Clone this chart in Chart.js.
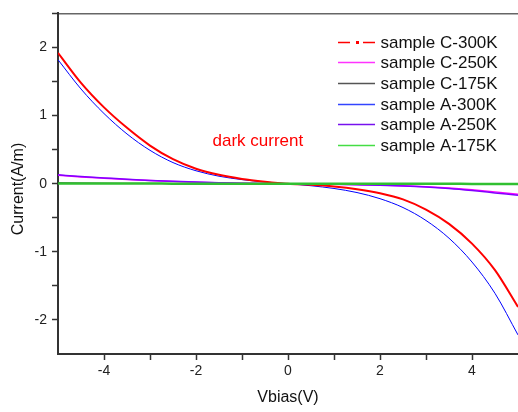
<!DOCTYPE html>
<html>
<head>
<meta charset="utf-8">
<script src="https://cdn.jsdelivr.net/npm/chart.js@4.4.1/dist/chart.umd.min.js"></script>
<style>
	html, body { margin: 0; padding: 0; background: #fff; }
	canvas { display: block; }
</style>
</head>
<body>
<canvas id="myChart" width="518" height="412"></canvas>
<script>
"use strict";

// bias voltage (V)
const vbias = [-5, -4.5, -4, -3.5, -3, -2.5, -2, -1.5, -1, -0.5, 0, 0.5, 1, 1.5, 2, 2.5, 3, 3.5, 4, 4.5, 5];

// dark current (A/m)
const sampleC300K = [1.92, 1.48, 1.12, 0.82, 0.56, 0.36, 0.22, 0.13, 0.07, 0.03, 0, -0.015, -0.04, -0.08, -0.14, -0.23, -0.38, -0.59, -0.88, -1.27, -1.81];
const sampleC250K = [0.125, 0.1, 0.08, 0.062, 0.046, 0.033, 0.022, 0.014, 0.007, 0.003, 0, -0.003, -0.007, -0.013, -0.02, -0.03, -0.044, -0.064, -0.09, -0.12, -0.155];
const sampleC175K = [0.012, 0.009, 0.007, 0.005, 0.004, 0.003, 0.002, 0.001, 0.001, 0, 0, 0, -0.001, -0.001, -0.002, -0.003, -0.004, -0.005, -0.007, -0.009, -0.012];
const sampleA300K = [1.82, 1.39, 1.03, 0.73, 0.49, 0.31, 0.19, 0.11, 0.06, 0.025, 0, -0.03, -0.07, -0.13, -0.22, -0.35, -0.54, -0.80, -1.15, -1.61, -2.22];
const sampleA250K = [0.13, 0.105, 0.085, 0.065, 0.048, 0.035, 0.024, 0.015, 0.008, 0.003, 0, -0.003, -0.008, -0.014, -0.022, -0.033, -0.048, -0.07, -0.10, -0.135, -0.17];
const sampleA175K = [0.004, 0.003, 0.003, 0.002, 0.002, 0.001, 0.001, 0.001, 0, 0, 0, 0, 0, -0.001, -0.001, -0.001, -0.002, -0.002, -0.003, -0.003, -0.004];

const seriesNames = ['sample C-300K', 'sample C-250K', 'sample C-175K', 'sample A-300K', 'sample A-250K', 'sample A-175K'];
const xTickLabels = [-4, -2, 0, 2, 4];
const yTickLabels = [-2, -1, 0, 1, 2];

const FONT = 'Arial, "Liberation Sans", sans-serif';

function pts(arr) {
	return vbias.map((v, i) => ({ x: v, y: arr[i] }));
}

const lineColors = ['#ff0000', '#ff00ff', '#000000', '#0000ff', '#8000ff', '#30c030'];
const legendColors = ['#ff0000', '#ff33ff', '#555555', '#3344ff', '#7711ee', '#44dd44'];
const lineWidths = [2, 1.5, 1, 1, 1.5, 2.5];
const drawOrder = [1, 3, 5, 4, 2, 0];
const allSeries = [sampleC300K, sampleC250K, sampleC175K, sampleA300K, sampleA250K, sampleA175K];

const datasets = allSeries.map((s, i) => ({
	label: seriesNames[i],
	data: pts(s),
	borderColor: lineColors[i],
	borderWidth: lineWidths[i],
	pointRadius: 0,
	cubicInterpolationMode: 'monotone',
	fill: false,
	order: drawOrder[i]
}));

// legend, annotation and y title drawn on top
const extrasPlugin = {
	id: 'extras',
	afterDraw(chart) {
		const ctx = chart.ctx;
		ctx.save();

		ctx.font = '17px ' + FONT;
		ctx.textBaseline = 'middle';
		ctx.textAlign = 'left';
		seriesNames.forEach((name, i) => {
			const y = Math.round(41.7 + i * 20.67) + 0.5;
			ctx.strokeStyle = legendColors[i];
			ctx.fillStyle = legendColors[i];
			ctx.lineWidth = 1.5;
			ctx.beginPath();
			if (i === 0) {
				ctx.moveTo(338, y); ctx.lineTo(350, y);
				ctx.moveTo(363, y); ctx.lineTo(375, y);
				ctx.stroke();
				ctx.fillRect(356, y - 1.5, 3, 3);
			} else {
				ctx.moveTo(338, y); ctx.lineTo(375, y);
				ctx.stroke();
			}
			ctx.fillStyle = '#111';
			ctx.fillText(name, 380.5, y + 1);
		});

		ctx.fillStyle = '#ff0000';
		ctx.fillText('dark current', 212.5, 141.5);

		ctx.translate(17.5, 189);
		ctx.rotate(-Math.PI / 2);
		ctx.textAlign = 'center';
		ctx.font = '16px ' + FONT;
		ctx.fillStyle = '#111';
		ctx.fillText('Current(A/m)', 0, 1);
		ctx.restore();
	}
};

const ctx = document.getElementById('myChart');

new Chart(ctx, {
	type: 'line',
	data: { datasets: datasets },
	plugins: [extrasPlugin],
	options: {
		responsive: false,
		animation: false,
		layout: { padding: 0 },
		plugins: {
			legend: { display: false },
			tooltip: { enabled: false }
		},
		scales: {
			x: {
				type: 'linear',
				position: 'bottom',
				min: -5,
				max: 5,
				afterFit: (s) => { s.height = 58; s.paddingLeft = 0; s.paddingRight = 0; },
				ticks: {
					stepSize: 1,
					autoSkip: false,
					maxRotation: 0,
					padding: 3,
					color: '#222',
					font: { family: FONT, size: 14 },
					callback: (v) => xTickLabels.includes(v) ? String(v) : ''
				},
				grid: {
					drawOnChartArea: false,
					drawTicks: true,
					tickLength: 6,
					tickWidth: 1.5,
					tickColor: (c) => (c.tick && Math.abs(c.tick.value) === 5) ? 'rgba(0,0,0,0)' : '#333'
				},
				border: { display: true, color: '#333', width: 2 },
				title: {
					display: true,
					text: 'Vbias(V)',
					color: '#111',
					font: { family: FONT, size: 16 },
					padding: { top: 0, bottom: 5 }
				}
			},
			x2: {
				type: 'linear',
				position: 'top',
				min: -5,
				max: 5,
				afterFit: (s) => { s.height = 8; s.paddingLeft = 0; s.paddingRight = 0; },
				ticks: { display: false },
				grid: { drawOnChartArea: false, drawTicks: false },
				border: { display: true, color: '#666', width: 1.5 }
			},
			y: {
				type: 'linear',
				position: 'left',
				min: -2.5,
				max: 2.5,
				afterFit: (s) => { s.width = 58; },
				ticks: {
					stepSize: 0.5,
					autoSkip: false,
					padding: 5,
					color: '#222',
					font: { family: FONT, size: 14 },
					callback: (v) => yTickLabels.includes(v) ? String(v) : ''
				},
				grid: {
					drawOnChartArea: false,
					drawTicks: true,
					tickLength: 6,
					tickWidth: 1.5,
					tickColor: (c) => (c.tick && c.tick.value === -2.5) ? 'rgba(0,0,0,0)' : '#333'
				},
				border: { display: true, color: '#333', width: 2 }
			}
		}
	}
});
</script>
</body>
</html>
